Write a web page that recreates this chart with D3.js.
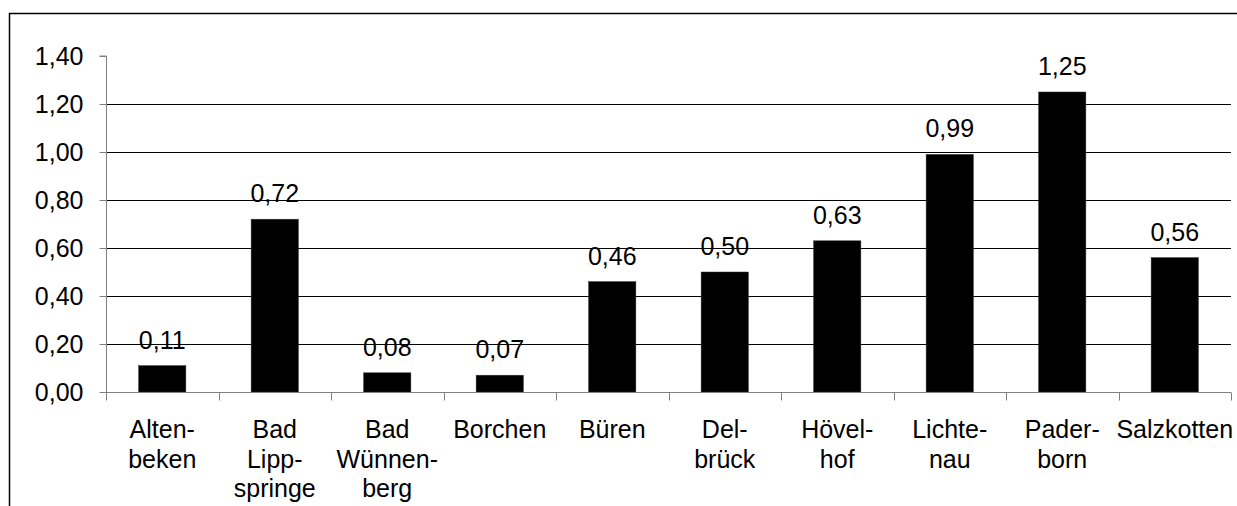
<!DOCTYPE html>
<html>
<head>
<meta charset="utf-8">
<script src="https://cdn.jsdelivr.net/npm/d3@7"></script>
<style>
  html, body { margin: 0; padding: 0; background: #fff; }
  svg { display: block; }
  text { font-family: "Liberation Sans", Arial, sans-serif; fill: #000; }
</style>
</head>
<body>
<svg id="chart" width="1237" height="506"></svg>
<script>
// Municipalities (line breaks as in the axis labels)
const categories = [
  "Alten-\nbeken",
  "Bad\nLipp-\nspringe",
  "Bad\nWünnen-\nberg",
  "Borchen",
  "Büren",
  "Del-\nbrück",
  "Hövel-\nhof",
  "Lichte-\nnau",
  "Pader-\nborn",
  "Salzkotten"
];
const values = [0.11, 0.72, 0.08, 0.07, 0.46, 0.50, 0.63, 0.99, 1.25, 0.56];
const yTicks = [0, 0.2, 0.4, 0.6, 0.8, 1.0, 1.2, 1.4];

const W = 1237, H = 506;
const margin = { left: 106, right: 6, top: 56, bottom: 114 };
const svg = d3.select("#chart");

const de = d3.formatLocale({ decimal: ",", thousands: ".", grouping: [3], currency: ["", " €"] });
const fmt = de.format(".2f");

const x = d3.scaleBand()
  .domain(categories)
  .range([margin.left, W - margin.right])
  .padding(0);

const y = d3.scaleLinear()
  .domain([0, 1.4])
  .range([H - margin.bottom, margin.top]);

const fontSize = 25;

// outer frame
svg.append("path")
  .attr("d", `M9.5,${H} V13.5 H${W}`)
  .attr("fill", "none")
  .attr("stroke", "#000")
  .attr("stroke-width", 1.5);

// horizontal gridlines
svg.append("g")
  .selectAll("line")
  .data(yTicks.filter(t => t > 0 && t < 1.4))
  .join("line")
  .attr("x1", margin.left)
  .attr("x2", W - margin.right)
  .attr("y1", d => Math.round(y(d)) + 0.5)
  .attr("y2", d => Math.round(y(d)) + 0.5)
  .attr("stroke", "#000")
  .attr("stroke-width", 1);

// bars
const barW = x.bandwidth() * 0.42;
svg.append("g")
  .selectAll("rect")
  .data(values)
  .join("rect")
  .attr("x", (d, i) => x(categories[i]) + (x.bandwidth() - barW) / 2)
  .attr("y", d => y(d))
  .attr("width", barW)
  .attr("height", d => y(0) - y(d))
  .attr("fill", "#000")
  .attr("stroke", "#333")
  .attr("stroke-width", 0.5);

// value labels
svg.append("g")
  .selectAll("text")
  .data(values)
  .join("text")
  .attr("x", (d, i) => x(categories[i]) + x.bandwidth() / 2)
  .attr("y", d => y(d) - 17)
  .attr("text-anchor", "middle")
  .attr("font-size", fontSize)
  .text(d => fmt(d));

// y axis
const yAxis = d3.axisLeft(y)
  .tickValues(yTicks)
  .tickSize(7)
  .tickPadding(16)
  .tickFormat(d => fmt(d));
const gy = svg.append("g")
  .attr("transform", `translate(${margin.left + 0.5},0)`)
  .call(yAxis);
gy.select(".domain").attr("stroke", "#808080").attr("d", `M-7,${y(1.4)}H0V${y(0)}`);
gy.selectAll(".tick line").attr("stroke", "#808080");
gy.selectAll(".tick").attr("transform", d => `translate(0,${Math.round(y(d)) + 0.5})`);
gy.selectAll(".tick text")
  .attr("font-size", fontSize)
  .attr("font-family", "Liberation Sans, Arial, sans-serif")
  .attr("fill", "#000");

// x axis line with boundary ticks
const xAxisY = Math.round(y(0)) + 0.5;
const gx = svg.append("g");
gx.append("line")
  .attr("x1", margin.left).attr("x2", W - margin.right)
  .attr("y1", xAxisY).attr("y2", xAxisY)
  .attr("stroke", "#808080");
const bounds = categories.map(c => x(c)).concat([x(categories[categories.length - 1]) + x.bandwidth()]);
gx.selectAll("line.tk")
  .data(bounds)
  .join("line")
  .attr("class", "tk")
  .attr("x1", d => Math.round(d) + 0.5).attr("x2", d => Math.round(d) + 0.5)
  .attr("y1", xAxisY).attr("y2", xAxisY + 8)
  .attr("stroke", "#808080");

// category labels
const lineH = 29.5;
const catG = svg.append("g");
categories.forEach(c => {
  const t = catG.append("text")
    .attr("x", x(c) + x.bandwidth() / 2)
    .attr("y", y(0) + 46)
    .attr("text-anchor", "middle")
    .attr("font-size", fontSize);
  c.split("\n").forEach((line, j) => {
    t.append("tspan")
      .attr("x", x(c) + x.bandwidth() / 2)
      .attr("dy", j === 0 ? 0 : lineH)
      .text(line);
  });
});
</script>
</body>
</html>
